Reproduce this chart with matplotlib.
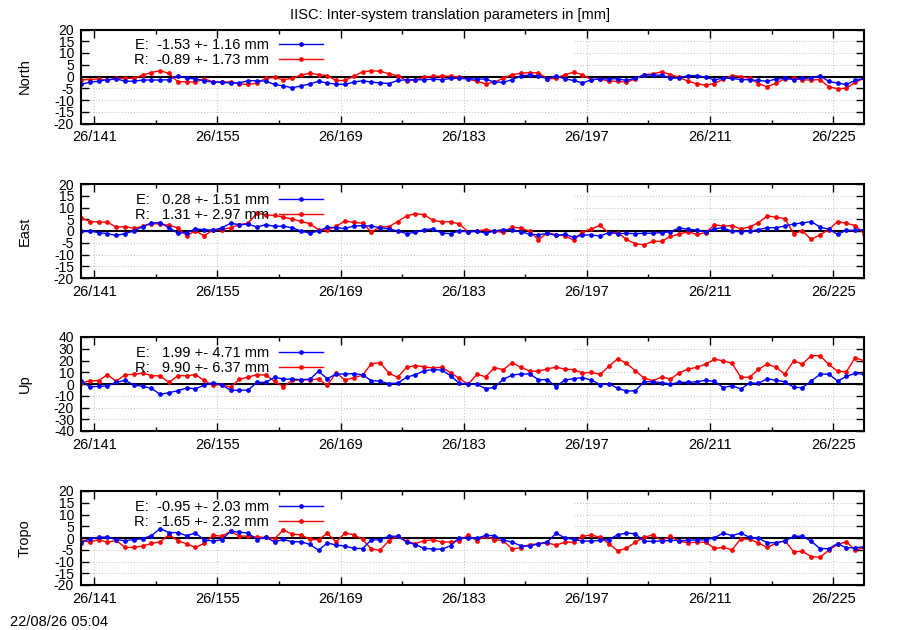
import numpy as np
import matplotlib
matplotlib.use("Agg")
import matplotlib.pyplot as plt
from matplotlib.patches import Rectangle
from matplotlib.ticker import FixedLocator

plt.rcParams['font.family'] = ['Liberation Sans', 'DejaVu Sans']

# ---------------- data ----------------
days = np.arange(139.5, 229.5, 1.0)   # daily solutions, day-of-year of 2026
major_days = [141, 155, 169, 183, 197, 211, 225]
major_labels = ["26/141", "26/155", "26/169", "26/183", "26/197", "26/211", "26/225"]
minor_days = [148, 162, 176, 190, 204, 218]

north_E = [-3.4, -2.4, -2.0, -1.4, -1.0, -2.0, -2.0, -1.5, -1.5, -1.5,
           -1.4, 0.3, -0.7, -1.0, -1.8, -2.4, -2.4, -2.8, -2.7, -1.8,
           -1.8, -2.0, -3.4, -4.0, -4.8, -4.0, -3.2, -2.0, -2.8, -3.2,
           -3.4, -2.4, -1.8, -2.4, -2.7, -3.0, -1.7, -1.4, -1.4, -1.4,
           -1.1, -1.4, -0.8, -0.8, -1.0, -1.1, -1.1, -2.4, -2.4, -1.4,
           0.3, 0.6, 0.3, -1.0, 0.3, -1.0, -1.7, -2.7, -1.4, -1.0,
           -1.0, -1.0, -1.7, -0.7, 0.6, 0.6, 0.6, -0.8, -0.6, 0.4,
           0.4, -0.3, -1.4, -0.7, -0.8, -1.3, -1.4, -1.7, -2.0, -1.1,
           -0.8, -1.3, -0.8, -0.6, 0.3, -2.1, -2.8, -3.4, -1.7, -0.8]
north_R = [-1.4, -1.3, -1.0, -1.7, -0.7, -0.8, -0.7, 0.6, 1.7, 2.5,
           1.3, -2.2, -2.2, -2.4, -1.0, -2.2, -2.5, -2.2, -3.2, -3.4,
           -2.8, -0.8, -0.4, -1.4, -0.7, 0.6, 1.4, 0.8, 0.4, -1.7,
           -1.7, 0.1, 2.0, 2.4, 2.3, 1.1, 0.4, -1.8, -1.5, -0.3,
           0.1, 0.1, 0.1, -0.3, -1.1, -2.0, -3.1, -2.4, -0.7, 0.8,
           1.3, 1.7, 1.5, -1.0, -0.8, 0.8, 1.8, 0.8, -1.4, -1.0,
           -2.0, -2.0, -2.4, -1.1, 0.8, 1.1, 2.0, 0.8, -0.4, -2.0,
           -3.1, -3.7, -3.0, -1.1, 0.4, 0.0, -0.8, -3.0, -4.4, -2.8,
           -1.0, -0.8, -1.4, -1.5, -1.3, -4.4, -5.2, -5.0, -2.5, -0.8]

east_E = [0.0, 0.0, -0.7, -1.1, -1.9, -1.1, 0.0, 1.9, 3.4, 3.6,
          1.3, -0.9, -0.7, 0.9, 0.6, 0.3, 1.3, 3.3, 2.7, 2.9,
          1.7, 2.7, 2.0, 2.0, 1.4, 0.0, -0.9, 0.0, 1.6, 1.4,
          1.1, 2.1, 2.3, 2.1, 1.4, 0.9, 0.0, -1.1, -0.6, 0.6,
          0.9, -0.9, -1.1, 0.0, -0.4, -0.1, -0.9, 0.0, 0.6, 0.6,
          -0.3, -1.4, -1.6, -1.0, -1.9, -1.4, -2.7, -1.7, -1.7, -2.1,
          -0.7, -1.1, -1.0, -1.1, -1.0, -0.9, -0.7, -0.3, 1.3, 0.7,
          0.4, -0.4, 1.0, 1.3, -0.1, -0.3, -0.1, 0.6, 1.4, 1.4,
          2.1, 3.0, 3.4, 4.0, 1.7, 0.7, -1.4, 0.3, 0.3, 0.6]
east_R = [5.7, 4.0, 3.9, 3.7, 1.7, 1.9, 1.1, 2.0, 3.1, 3.0,
          2.4, 1.4, -2.0, 0.0, -2.0, 0.4, 0.6, 1.4, 2.7, 3.3,
          7.6, 6.9, 6.6, 5.9, 5.1, 4.1, 3.1, 0.6, 0.4, 2.0,
          4.3, 3.7, 3.3, -0.4, 1.7, 1.9, 4.0, 6.4, 7.4, 6.9,
          4.6, 3.9, 3.9, 3.1, -0.4, -0.1, 0.6, -0.1, -0.6, 1.6,
          1.3, -0.1, -3.7, -0.7, -1.6, -2.0, -3.9, -0.4, 0.9, 2.4,
          -0.9, -0.7, -3.6, -5.4, -5.9, -4.4, -4.4, -2.3, -1.3, -0.3,
          -1.4, -0.7, 2.6, 2.1, 2.3, 0.9, 1.7, 3.6, 6.4, 5.9,
          5.3, -1.1, 0.1, -3.6, -1.6, 0.6, 4.0, 3.3, 2.3, -1.1]

up_E = [2.5, -2.3, -2.0, -1.7, 1.4, 3.1, -0.8, -2.0, -3.7, -8.8,
        -7.4, -5.7, -3.4, -4.0, -1.1, 1.1, -0.6, -5.4, -5.4, -5.1,
        1.4, 1.4, 5.7, 4.2, 4.2, 3.7, 4.0, 10.8, 4.5, 8.5,
        8.5, 8.8, 7.9, 2.8, 2.5, 0.3, 0.8, 5.7, 7.9, 11.3,
        12.2, 11.9, 7.1, 0.6, 0.0, -0.3, -4.0, -2.8, 4.0, 7.6,
        8.5, 8.5, 3.7, 3.7, -2.3, 3.4, 4.5, 5.4, 3.4, -0.6,
        0.3, -3.7, -5.9, -5.9, 2.0, 2.0, 1.1, 0.0, 1.4, 1.4,
        2.0, 3.1, 2.3, -3.1, -1.4, -4.2, 0.8, 0.6, 4.5, 3.1,
        2.0, -2.8, -3.1, 2.5, 8.2, 8.5, 2.5, 6.5, 9.1, 8.2]
up_R = [0.8, 2.8, 2.8, 7.9, 2.3, 7.9, 8.2, 9.3, 7.1, 6.8,
        1.4, 7.1, 7.1, 7.9, 3.1, -1.1, -0.6, -2.8, 4.0, 5.9,
        7.9, 7.6, 2.3, -2.3, 3.1, 3.4, 3.7, 4.2, -1.1, 9.6,
        3.4, 5.4, 7.4, 17.3, 18.1, 9.3, 5.7, 14.2, 15.6, 14.7,
        13.6, 14.2, 9.6, 4.8, -0.3, 8.2, 6.2, 13.9, 12.2, 18.1,
        14.2, 11.0, 10.8, 13.0, 14.2, 12.7, 12.2, 9.3, 9.9, 8.2,
        15.0, 21.5, 17.6, 11.3, 5.1, 2.8, 5.9, 4.2, 9.6, 12.7,
        14.2, 17.0, 21.0, 19.8, 17.6, 5.7, 5.7, 12.5, 17.0, 14.2,
        8.5, 19.5, 17.0, 24.1, 24.1, 16.7, 10.8, 10.5, 22.4, 19.8]

tropo_E = [-2.0, -0.3, 0.3, 0.4, -0.7, -1.1, -0.7, -0.3, 1.0, 4.0,
           2.3, 2.3, 1.0, 2.1, -0.8, -1.3, -0.7, 2.8, 2.5, 2.1,
           -0.7, 0.4, -1.7, -0.6, -1.6, -1.6, -2.7, -5.2, -2.1, -3.0,
           -3.4, -4.4, -4.5, -0.8, -0.8, 0.8, 0.7, -1.7, -2.8, -4.4,
           -4.7, -4.8, -3.3, 0.1, 0.0, -0.1, 1.1, 1.0, -0.8, -1.8,
           -3.3, -3.5, -2.4, -1.7, 2.0, 0.1, -0.6, -1.3, -1.3, -1.0,
           -0.7, 1.4, 2.1, 1.8, -1.4, -1.4, -1.3, -1.0, -1.1, -1.0,
           -0.8, -0.8, 0.1, 2.1, 1.0, 2.1, 0.3, -0.1, -2.0, -2.0,
           -1.3, 0.7, 0.8, -1.4, -4.5, -4.5, -2.4, -4.2, -4.1, -3.8]
tropo_R = [-1.1, -1.7, -0.7, -1.8, -1.0, -4.0, -4.0, -3.4, -2.3, -1.6,
           1.4, -1.1, -2.5, -4.0, -2.3, 1.1, 0.8, 2.8, 0.8, 0.8,
           0.3, 0.3, -0.3, 3.4, 1.6, 1.4, -0.6, -0.7, 2.0, -1.7,
           2.1, 1.4, -0.6, -4.7, -5.2, -1.1, 0.8, -1.4, -2.4, -1.1,
           -0.8, -1.7, -1.7, -1.1, 1.1, -1.1, 0.7, -0.7, -1.1, -4.7,
           -4.1, -2.8, -2.5, -2.1, -3.0, -1.8, -1.8, 0.7, 1.3, 0.3,
           -2.4, -5.4, -4.4, -1.8, 0.3, 1.3, -1.1, 0.7, -1.4, -2.0,
           -1.8, -1.8, -4.4, -4.0, -5.0, -0.3, -0.6, -2.1, -4.0, -2.3,
           -1.1, -5.8, -5.7, -7.9, -8.2, -5.2, -2.7, -1.6, -5.2, -4.0]

panel_names = ["North", "East", "Up", "Tropo"]
panel_E = [north_E, east_E, up_E, tropo_E]
panel_R = [north_R, east_R, up_R, tropo_R]
labels_E = ["E:  -1.53 +- 1.16 mm", "E:   0.28 +- 1.51 mm",
            "E:   1.99 +- 4.71 mm", "E:  -0.95 +- 2.03 mm"]
labels_R = ["R:  -0.89 +- 1.73 mm", "R:   1.31 +- 2.97 mm",
            "R:   9.90 +- 6.37 mm", "R:  -1.65 +- 2.32 mm"]
y_limits = [20, 20, 40, 20]
y_steps = [5, 5, 10, 5]

title = "IISC: Inter-system translation parameters in [mm]"
stamp = "22/08/26 05:04"

# ---------------- figure ----------------
W, H = 900, 630
fig = plt.figure(figsize=(W / 100, H / 100), dpi=100)

left_px, right_px = 81, 864
tops_px = [29.5, 184, 337, 491]
height_px = 94
FS = 10.5

for k in range(4):
    ax = fig.add_axes([left_px / W, 1 - (tops_px[k] + height_px) / H,
                       (right_px - left_px) / W, height_px / H])
    lim = y_limits[k]
    step = y_steps[k]
    yt = list(range(-lim, lim + 1, step))
    ax.set_xlim(days[0], days[-1])
    ax.set_ylim(-lim, lim)

    # grid
    for yv in yt:
        if yv not in (-lim, lim, 0):
            ax.axhline(yv, color="#a8a8a8", lw=0.6, ls=(0, (1, 2.5)), zorder=0)
    for xv in major_days:
        ax.axvline(xv, color="#a8a8a8", lw=0.6, ls=(0, (1, 2.5)), zorder=0)
    # opaque key box
    ax.add_patch(Rectangle((0, 0.56), 0.628, 0.44, transform=ax.transAxes,
                           facecolor="white", edgecolor="none", zorder=1))
    ax.axhline(0, color="black", lw=1.5, zorder=2)

    ax.plot(days, panel_E[k], color="#0000ff", lw=1.0, marker="o", ms=2.4,
            mec="#0000ff", mfc="#0000ff", label=labels_E[k], zorder=4)
    ax.plot(days, panel_R[k], color="#ff0000", lw=1.0, marker="o", ms=2.4,
            mec="#ff0000", mfc="#ff0000", label=labels_R[k], zorder=3)

    ax.xaxis.set_major_locator(FixedLocator(major_days))
    ax.xaxis.set_minor_locator(FixedLocator(minor_days))
    ax.set_xticklabels(major_labels)
    ax.set_yticks(yt)
    ax.set_yticklabels([str(v) for v in yt])
    ax.tick_params(axis="both", which="major", direction="in", length=6,
                   width=1.0, top=True, right=True, labelsize=FS)
    ax.tick_params(axis="y", labelsize=10)
    ax.tick_params(axis="both", which="minor", direction="in", length=3,
                   width=1.0, top=True, right=True)
    ax.tick_params(axis="x", pad=5)
    ax.tick_params(axis="y", pad=5)
    for s in ax.spines.values():
        s.set_linewidth(1.5)
        s.set_zorder(6)

    ax.set_ylabel(panel_names[k], fontsize=FS)
    ax.yaxis.set_label_coords(-0.0626, 0.5)

    h, l = ax.get_legend_handles_labels()
    leg = ax.legend(h, l, loc="upper right", bbox_to_anchor=(0.309, 0.905),
                    frameon=False, markerfirst=False, numpoints=1,
                    handlelength=3.0, handletextpad=0.7, labelspacing=0.05,
                    borderpad=0, borderaxespad=0, fontsize=FS)
    leg.set_zorder(5)

fig.text(0.5, 1 - 15 / H, title, ha="center", va="center", fontsize=FS)
fig.text(10 / W, 1 - 622 / H, stamp, ha="left", va="center", fontsize=FS)

fig.savefig("out.png", dpi=100)
